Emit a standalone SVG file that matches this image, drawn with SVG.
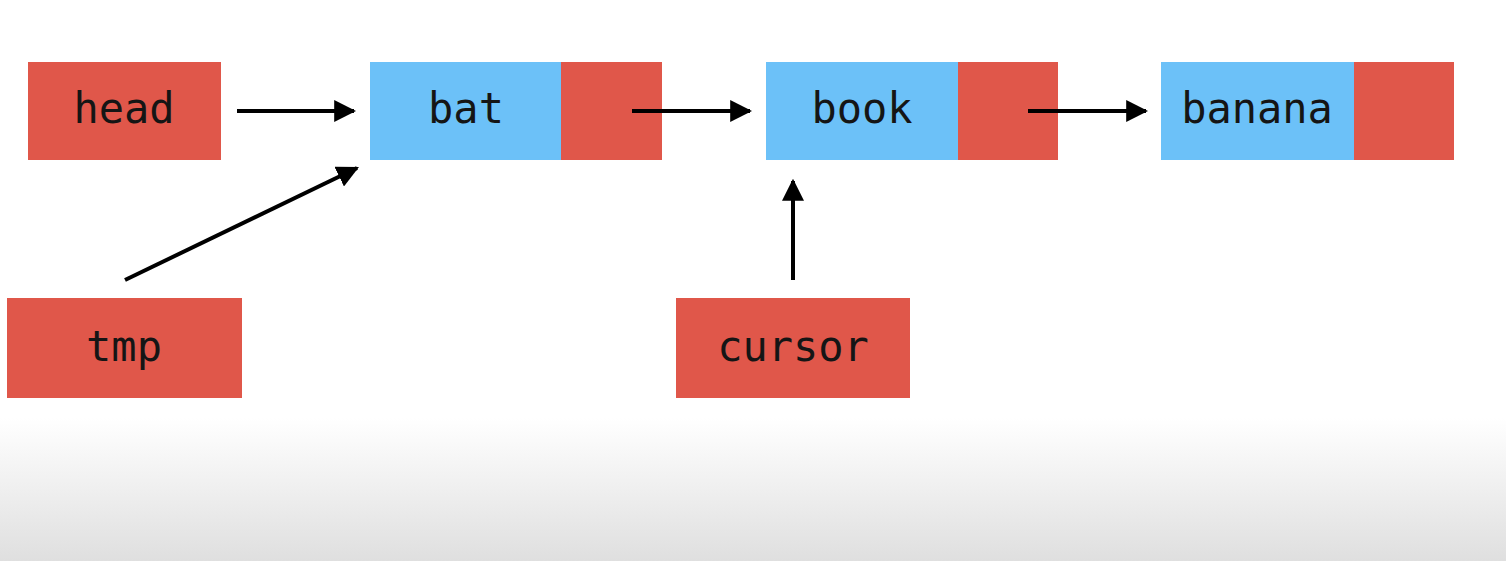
<svg xmlns="http://www.w3.org/2000/svg" width="1506" height="561" viewBox="0 0 1506 561">
<defs>
<linearGradient id="bg" x1="0" y1="0" x2="0" y2="1">
<stop offset="0" stop-color="#ffffff"/>
<stop offset="1" stop-color="#dfdfdf"/>
</linearGradient>
<marker id="ah" viewBox="0 0 10 10" refX="9" refY="5" markerWidth="5.5" markerHeight="5.5" markerUnits="strokeWidth" orient="auto">
<path d="M0,0 L10,5 L0,10 z" fill="#000"/>
</marker>
<style>
.r{fill:#e0574a}
.b{fill:#6cc1f8}
.t{font-family:"DejaVu Sans Mono","Liberation Mono",monospace;font-size:42px;fill:#151515;text-anchor:middle;dominant-baseline:central}
.c{stroke:#000;stroke-width:4;fill:none;marker-end:url(#ah)}
</style>
</defs>
<rect width="1506" height="561" fill="#fff"/>
<rect x="0" y="418" width="1506" height="143" fill="url(#bg)"/>
<g id="head"><rect class="r" x="28" y="62" width="193" height="98"/><text class="t" x="124" y="108">head</text></g>
<g id="bat"><rect class="b" x="370" y="62" width="191" height="98"/><rect class="r" x="561" y="62" width="101" height="98"/><text class="t" x="466" y="108">bat</text></g>
<g id="book"><rect class="b" x="766" y="62" width="192" height="98"/><rect class="r" x="958" y="62" width="100" height="98"/><text class="t" x="862" y="108">book</text></g>
<g id="banana"><rect class="b" x="1161" y="62" width="193" height="98"/><rect class="r" x="1354" y="62" width="100" height="98"/><text class="t" x="1257" y="108">banana</text></g>
<g id="tmp"><rect class="r" x="7" y="298" width="235" height="100"/><text class="t" x="124" y="346">tmp</text></g>
<g id="cursor"><rect class="r" x="676" y="298" width="234" height="100"/><text class="t" x="793" y="346">cursor</text></g>
<g id="connectors">
<line class="c" x1="237" y1="111" x2="354" y2="111"/>
<line class="c" x1="632" y1="111" x2="750" y2="111"/>
<line class="c" x1="1028" y1="111" x2="1146" y2="111"/>
<line class="c" x1="125" y1="280" x2="357" y2="168"/>
<line class="c" x1="793" y1="280" x2="793" y2="181"/>
</g>
</svg>
